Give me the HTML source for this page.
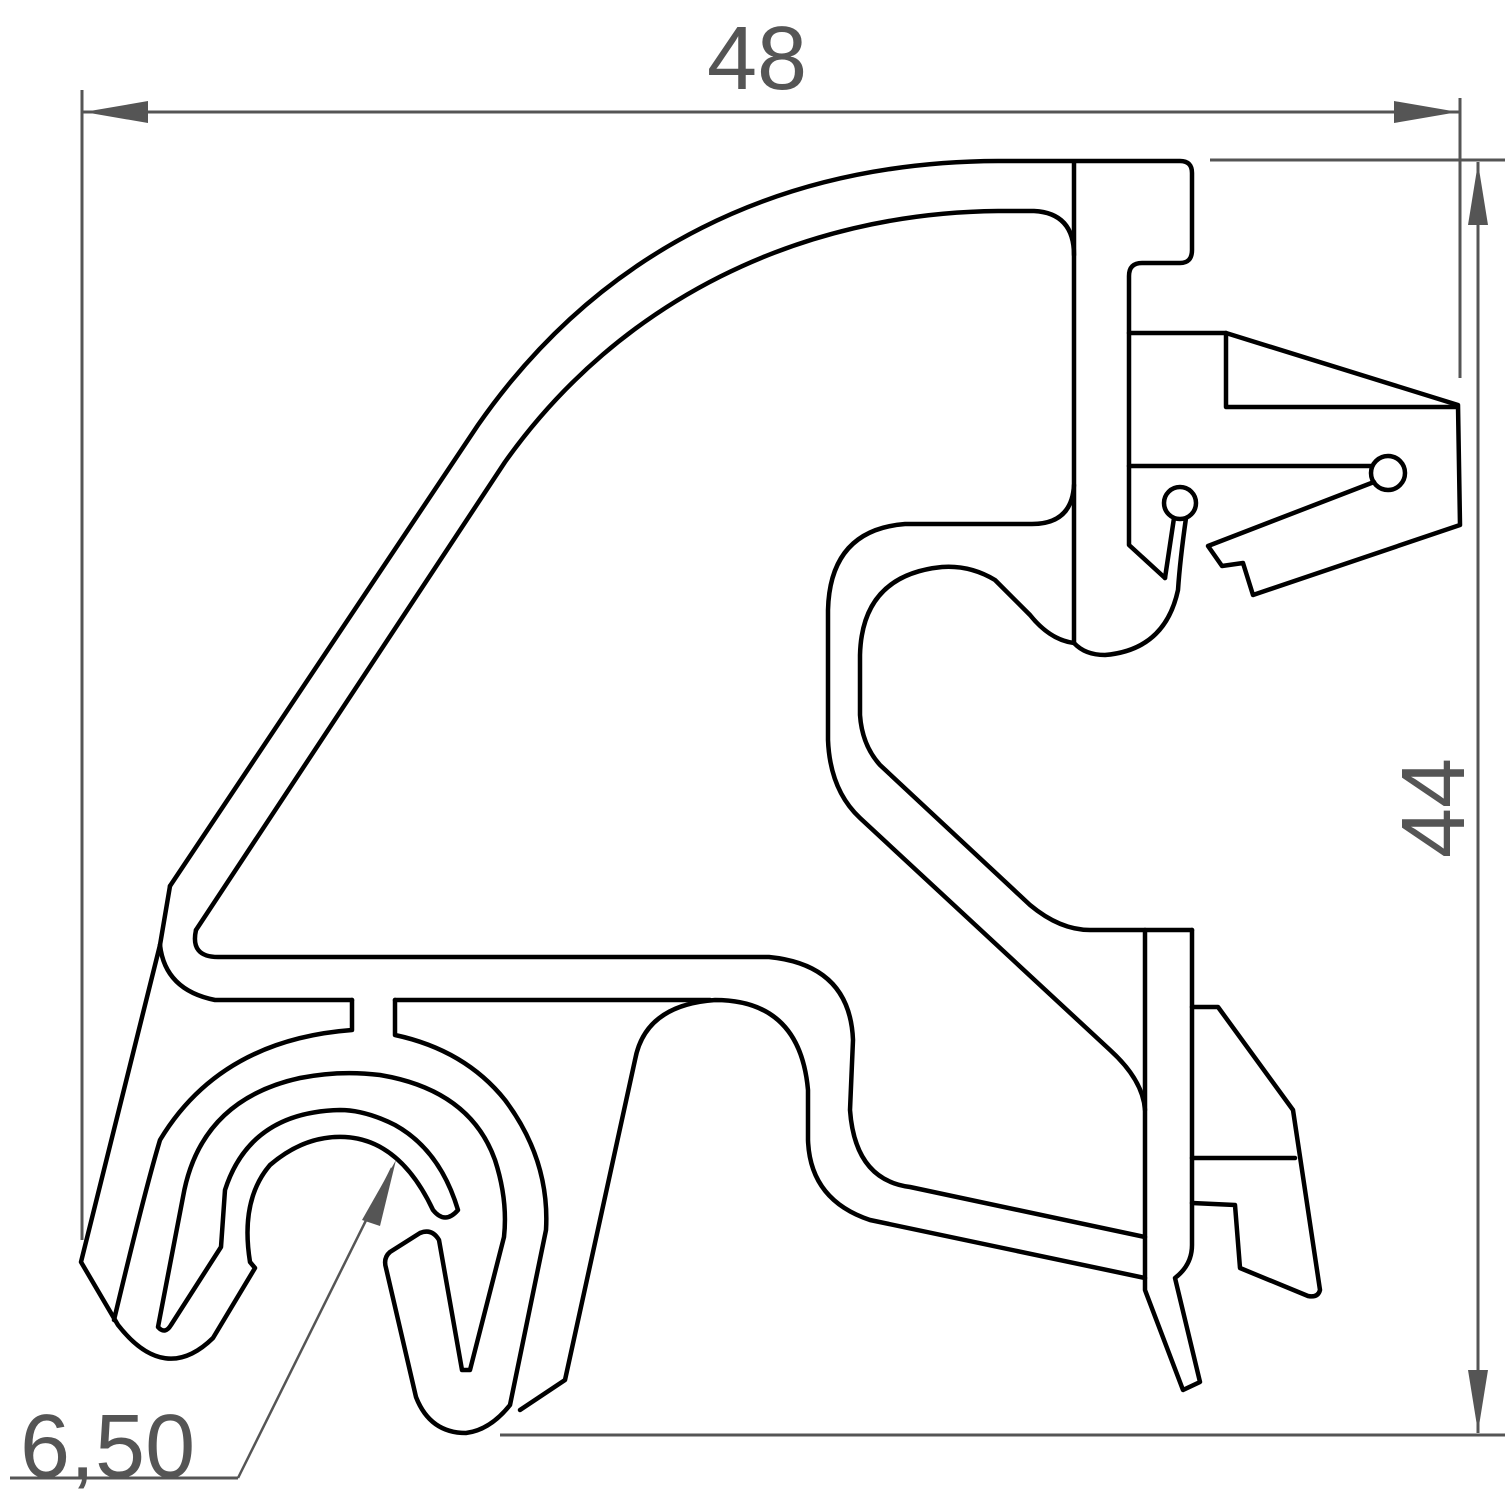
<!DOCTYPE html>
<html><head><meta charset="utf-8"><style>
html,body{margin:0;padding:0;background:#fff;}
svg{display:block;}
</style></head><body>
<svg width="1512" height="1512" viewBox="0 0 1512 1512" xmlns="http://www.w3.org/2000/svg">
<g fill="none" stroke="#555" stroke-width="3">
  <line x1="82" y1="90" x2="82" y2="1240"/>
  <line x1="1460" y1="98" x2="1460" y2="378"/>
  <line x1="82" y1="112" x2="1460" y2="112"/>
  <line x1="1210" y1="160" x2="1505" y2="160"/>
  <line x1="500" y1="1435" x2="1505" y2="1435"/>
  <line x1="1478" y1="162" x2="1478" y2="1433"/>
  <line x1="10" y1="1478" x2="238" y2="1478"/>
  <line x1="238" y1="1478" x2="392" y2="1168" stroke-width="2.5"/>
</g>
<g fill="#555">
  <polygon points="84,112 148,101 148,123"/>
  <polygon points="1458,112 1394,101 1394,123"/>
  <polygon points="1478,163 1468,225 1488,225"/>
  <polygon points="1478,1432 1468,1370 1488,1370"/>
  <polygon points="396,1160 362,1220 380,1226"/>
</g>
<g font-family="Liberation Sans, sans-serif" fill="#555" font-size="90">
  <text x="707" y="89">48</text>
  <text x="20" y="1477">6,50</text>
  <text transform="translate(1464,858) rotate(-90)">44</text>
</g>
<g fill="none" stroke="#000" stroke-width="4.5" stroke-linejoin="round" stroke-linecap="round">
  <path d="M170 886 L478 425 C600 250 780 162 998 161 L1180 161 Q1192 161 1192 173 L1192 250 Q1192 263 1180 263 L1142 263 Q1129 263 1129 276 L1129 545 L1165 578"/>
  <line x1="1074" y1="162" x2="1074" y2="643"/>
  <path d="M1129 333 L1226 333 L1458 405 L1460 525 L1253 595 L1243 563 L1222 566 L1208 546 L1374 482"/>
  <path d="M1226 333 L1226 407 L1456 407"/>
  <line x1="1129" y1="466" x2="1371" y2="466"/>
  <circle cx="1388" cy="473" r="17"/>
  <circle cx="1180" cy="503" r="16"/>
  <path d="M1174 518 L1165 578"/>
  <path d="M1186 518 Q1180 560 1178 590 Q1165 650 1105 655 Q1085 655 1074 643"/>
  <path d="M196 930 Q190 957 218 957 L769 957 Q850 965 853 1040 L850 1110 Q855 1180 910 1187 L1145 1237"/>
  <path d="M196 930 L505 462 C620 300 800 213 998 211 L1034 211 Q1074 213 1074 255"/>
  <path d="M1074 485 Q1072 524 1032 524 L905 524 Q830 530 828 610 L828 740 Q830 790 860 818 L1110 1050 Q1143 1080 1145 1110"/>
  <path d="M1074 643 Q1050 640 1030 615 L995 580 Q970 565 942 567 Q862 575 860 655 L860 715 Q862 745 880 765 L1030 905 Q1060 930 1090 930 L1192 930"/>
  <path d="M1145 930 L1145 1290 L1183 1390 L1200 1382 L1175 1278 Q1192 1265 1192 1245 L1192 930"/>
  <path d="M1192 1007 L1218 1007 L1293 1110 L1320 1290 Q1318 1298 1308 1296 L1240 1268 L1235 1205 L1192 1203"/>
  <line x1="1192" y1="1158" x2="1295" y2="1158"/>
  <path d="M1145 1278 L870 1220 Q810 1200 808 1140 L808 1090 Q800 1000 715 1000 Q645 1005 635 1060 L565 1380 L520 1410"/>
  <path d="M710 1000 L395 1000"/>
  <path d="M352 1000 L215 1000 Q165 990 160 945"/>
  <path d="M160 945 L81 1262 L118 1325 Q165 1385 213 1338 L255 1268 L250 1262 Q240 1200 270 1165 Q305 1135 345 1137 Q400 1140 433 1210 Q445 1225 458 1210 Q440 1150 395 1125 Q365 1110 340 1110 Q250 1112 225 1190 L221 1247 L171 1325 Q165 1335 158 1327 L183 1197 Q200 1100 300 1078 Q340 1070 380 1075 Q470 1090 495 1160 Q508 1200 504 1237 L470 1370 L462 1370 L439 1240 Q432 1228 420 1233 L390 1252 Q383 1258 386 1268 L416 1397 Q430 1433 466 1433 Q490 1430 510 1405 L546 1230 Q550 1160 505 1100 Q465 1050 395 1035 L395 1000"/>
  <path d="M352 1000 L352 1030 Q220 1040 160 1140 Q145 1190 114 1320"/>
  <path d="M170 886 L160 945"/>
</g>
</svg>
</body></html>
